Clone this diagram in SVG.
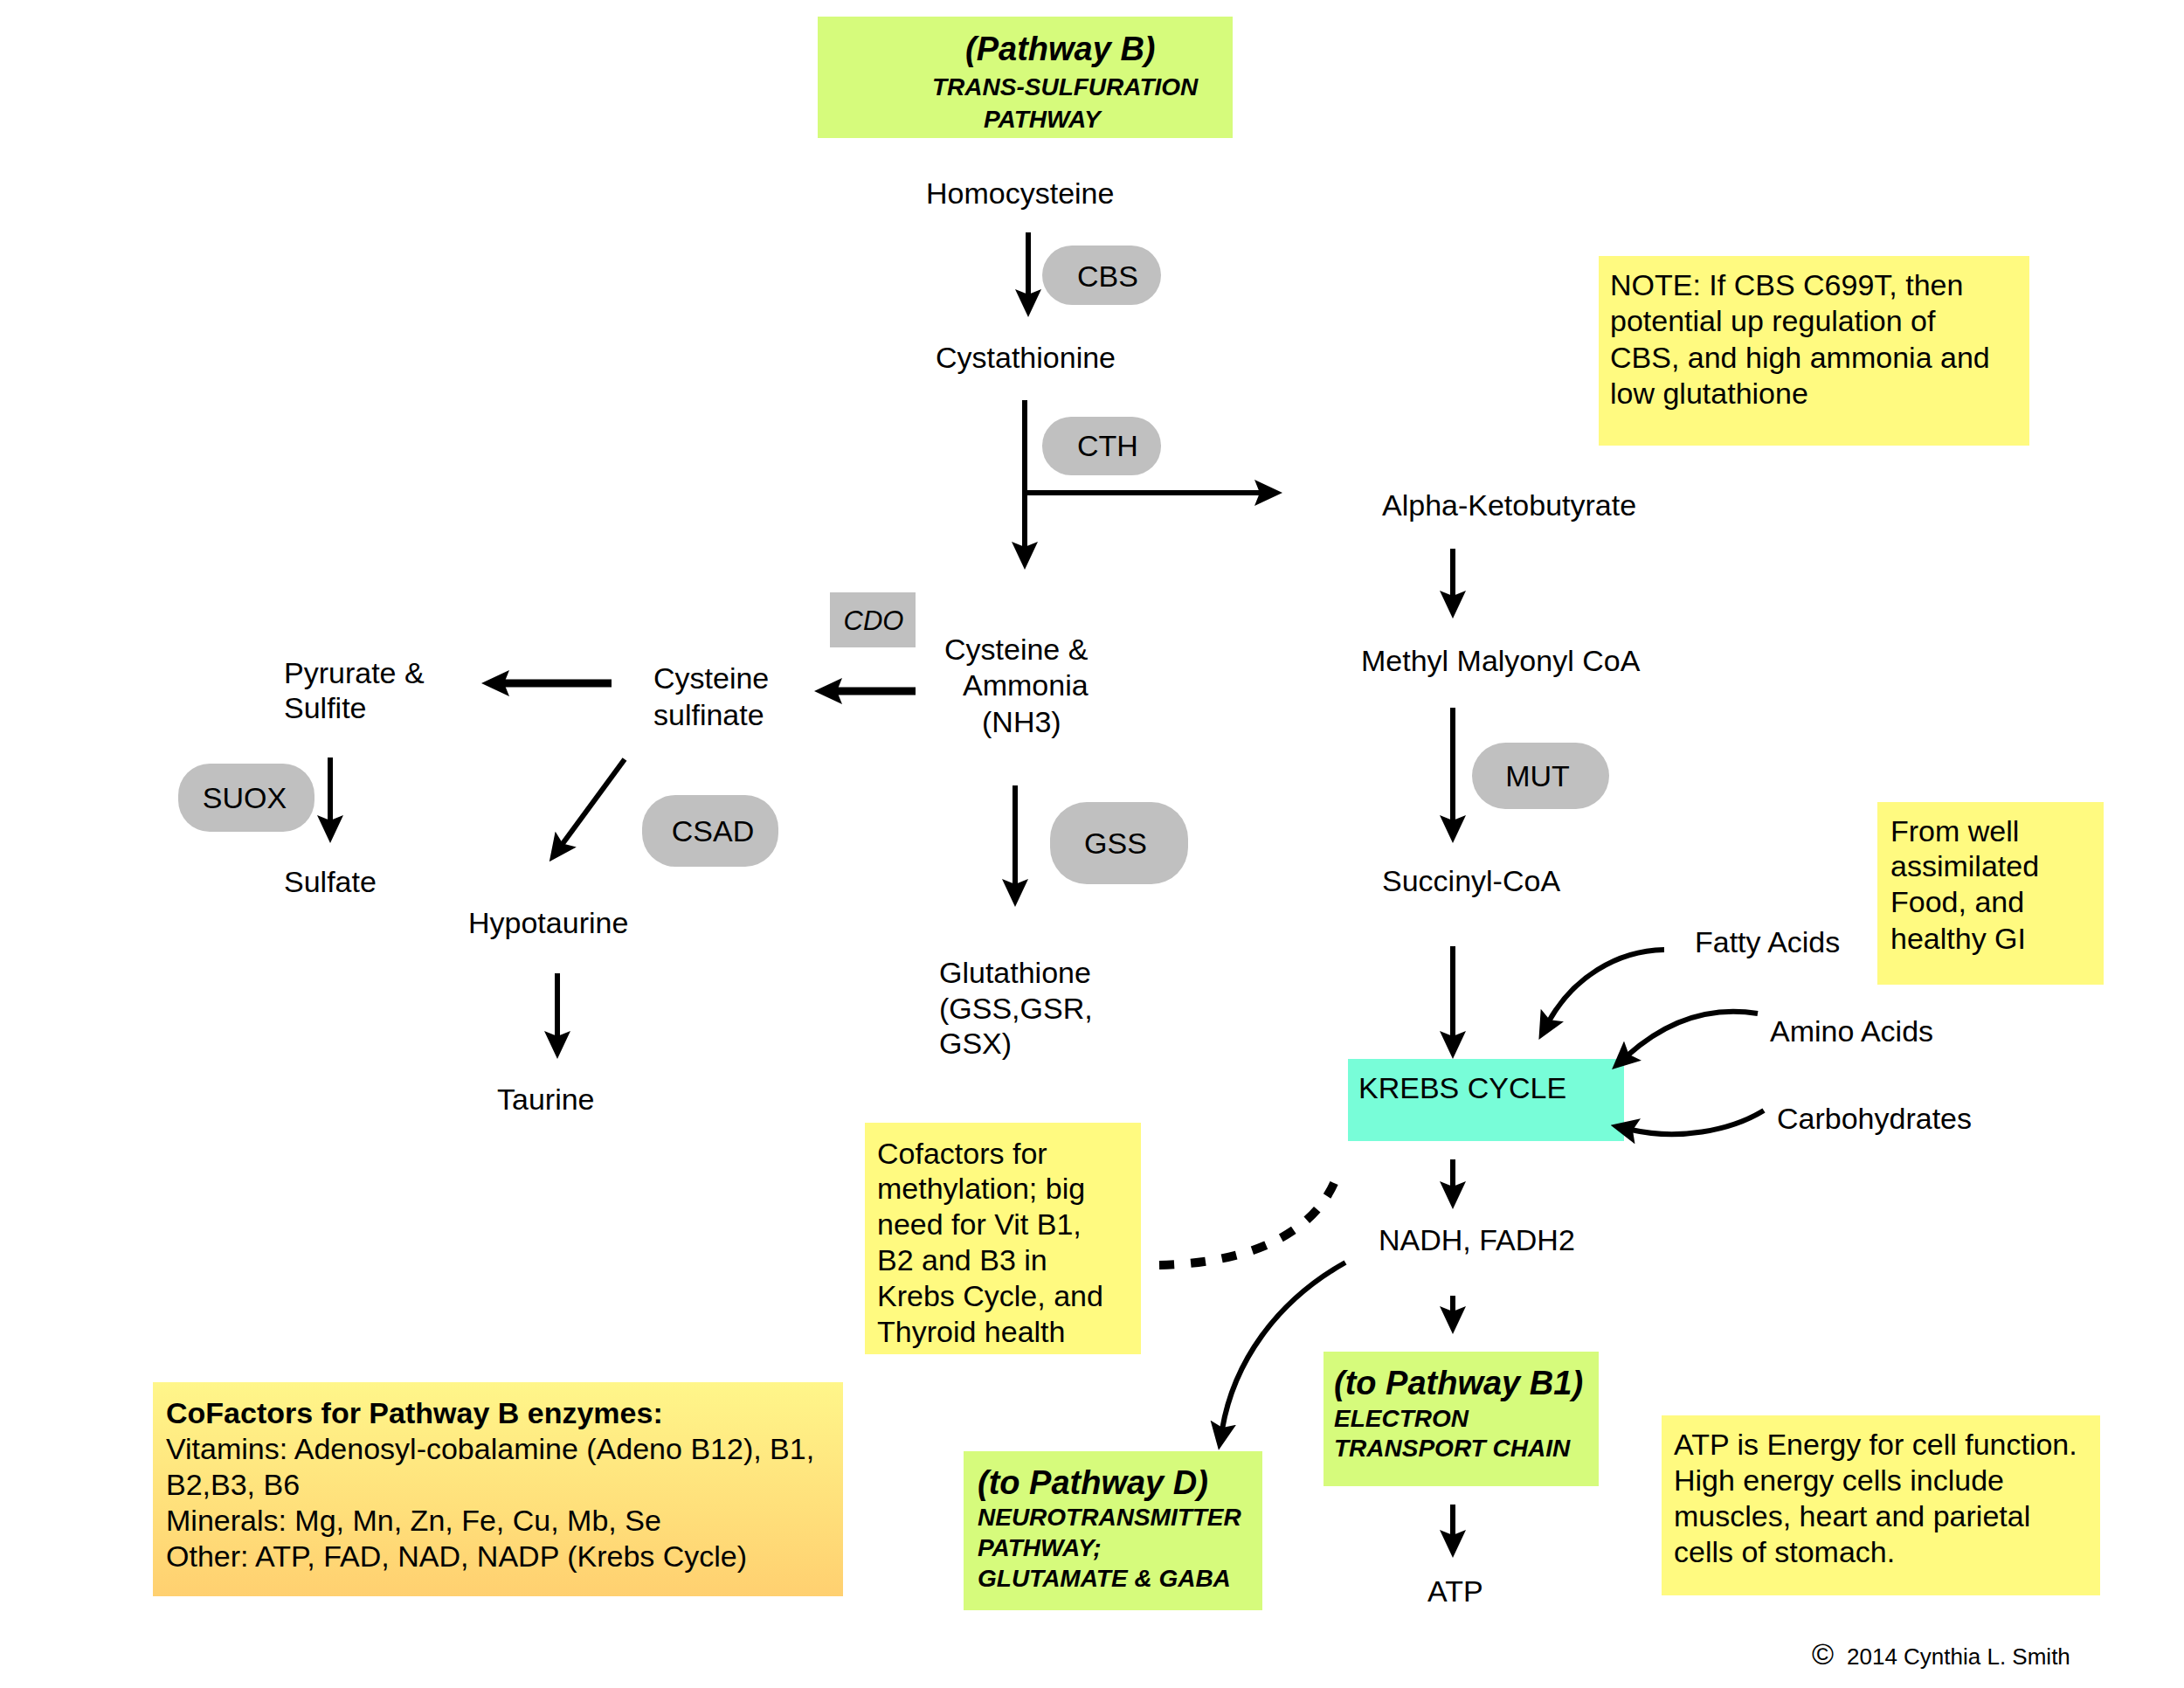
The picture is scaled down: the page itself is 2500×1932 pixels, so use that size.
<svg xmlns="http://www.w3.org/2000/svg" width="2500" height="1932" viewBox="0 0 2500 1932">
<defs>
<style>
text{font-family:"Liberation Sans",Arial,Helvetica,sans-serif;font-size:34px;fill:#000}
.bi{font-weight:bold;font-style:italic}
.h1{font-size:38px}
.h2{font-size:28px}
.it{font-style:italic;font-size:31px}
.b{font-weight:bold}
.mid{text-anchor:middle}
.pill{fill:#C0C0C0}
.note{fill:#FFFA80}
.grn{fill:#D6FB7C}
.ln{fill:none;stroke:#000;stroke-width:6;marker-end:url(#ah)}
.thk{stroke-width:9}
.dash{fill:none;stroke:#000;stroke-width:10;stroke-dasharray:17 19}
</style>
<marker id="ah" markerUnits="userSpaceOnUse" viewBox="0 0 32 30" markerWidth="32" markerHeight="30" refX="8" refY="15" orient="auto">
<path d="M0,0 L32,15 L0,30 L6,15 Z" fill="#000"/>
</marker>
<linearGradient id="og" x1="0" y1="0" x2="0" y2="1">
<stop offset="0" stop-color="#FFF68A"/>
<stop offset="1" stop-color="#FFD070"/>
</linearGradient>
</defs>

<g id="title">
<rect x="936" y="19" width="475" height="139" class="grn"/>
<text x="1105" y="69" class="bi h1">(Pathway B)</text>
<text x="1067" y="109" class="bi h2">TRANS-SULFURATION</text>
<text x="1126" y="146" class="bi h2">PATHWAY</text>
</g>

<g id="homocysteine"><text x="1060" y="233">Homocysteine</text></g>
<g id="cbs"><rect x="1193" y="281" width="136" height="68" rx="34" class="pill"/><text x="1268" y="328" class="mid">CBS</text></g>
<g id="cystathionine"><text x="1071" y="421">Cystathionine</text></g>
<g id="cth"><rect x="1193" y="477" width="136" height="67" rx="33" class="pill"/><text x="1268" y="522" class="mid">CTH</text></g>

<g id="note-cbs">
<rect x="1830" y="293" width="493" height="217" class="note"/>
<text x="1843" y="338">NOTE: If CBS C699T, then</text>
<text x="1843" y="379">potential up regulation of</text>
<text x="1843" y="421">CBS, and high ammonia and</text>
<text x="1843" y="462">low glutathione</text>
</g>

<g id="alpha"><text x="1582" y="590">Alpha-Ketobutyrate</text></g>
<g id="methyl"><text x="1558" y="768">Methyl Malyonyl CoA</text></g>
<g id="mut"><rect x="1685" y="850" width="157" height="76" rx="38" class="pill"/><text x="1760" y="900" class="mid">MUT</text></g>
<g id="succinyl"><text x="1582" y="1020">Succinyl-CoA</text></g>

<g id="note-food">
<rect x="2149" y="918" width="259" height="209" class="note"/>
<text x="2164" y="963">From well</text>
<text x="2164" y="1003">assimilated</text>
<text x="2164" y="1044">Food, and</text>
<text x="2164" y="1086">healthy GI</text>
</g>
<g id="fatty"><text x="1940" y="1090">Fatty Acids</text></g>
<g id="amino"><text x="2026" y="1192">Amino Acids</text></g>
<g id="carbo"><text x="2034" y="1292">Carbohydrates</text></g>

<g id="krebs"><rect x="1543" y="1212" width="316" height="94" fill="#78FDD8"/><text x="1555" y="1257">KREBS CYCLE</text></g>
<g id="nadh"><text x="1578" y="1431">NADH, FADH2</text></g>

<g id="pathway-b1">
<rect x="1515" y="1547" width="315" height="154" class="grn"/>
<text x="1527" y="1596" class="bi h1">(to Pathway B1)</text>
<text x="1527" y="1633" class="bi h2">ELECTRON</text>
<text x="1527" y="1667" class="bi h2">TRANSPORT CHAIN</text>
</g>
<g id="atp"><text x="1634" y="1833">ATP</text></g>

<g id="note-atp">
<rect x="1902" y="1620" width="502" height="206" class="note"/>
<text x="1916" y="1665">ATP is Energy for cell function.</text>
<text x="1916" y="1706">High energy cells include</text>
<text x="1916" y="1747">muscles, heart and parietal</text>
<text x="1916" y="1788">cells of stomach.</text>
</g>

<g id="pathway-d">
<rect x="1103" y="1661" width="342" height="182" class="grn"/>
<text x="1119" y="1710" class="bi h1">(to Pathway D)</text>
<text x="1119" y="1746" class="bi h2">NEUROTRANSMITTER</text>
<text x="1119" y="1781" class="bi h2">PATHWAY;</text>
<text x="1119" y="1816" class="bi h2">GLUTAMATE &amp; GABA</text>
</g>

<g id="note-methylation">
<rect x="990" y="1285" width="316" height="265" class="note"/>
<svg x="990" y="1285" width="316" height="265" viewBox="990 1285 316 265">
<text x="1004" y="1332">Cofactors for</text>
<text x="1004" y="1372">methylation; big</text>
<text x="1004" y="1413">need for Vit B1,</text>
<text x="1004" y="1454">B2 and B3 in</text>
<text x="1004" y="1495">Krebs Cycle, and</text>
<text x="1004" y="1536">Thyroid health</text>
</svg>
</g>

<g id="cofactors">
<rect x="175" y="1582" width="790" height="245" fill="url(#og)"/>
<text x="190" y="1629" class="b">CoFactors for Pathway B enzymes:</text>
<text x="190" y="1670">Vitamins: Adenosyl-cobalamine (Adeno B12), B1,</text>
<text x="190" y="1711">B2,B3, B6</text>
<text x="190" y="1752">Minerals: Mg, Mn, Zn, Fe, Cu, Mb, Se</text>
<text x="190" y="1793">Other: ATP, FAD, NAD, NADP (Krebs Cycle)</text>
</g>

<g id="cdo"><rect x="950" y="678" width="98" height="63" class="pill"/><text x="1000" y="721" class="mid it">CDO</text></g>
<g id="cysteine">
<text x="1081" y="755">Cysteine &amp;</text>
<text x="1102" y="796">Ammonia</text>
<text x="1124" y="838">(NH3)</text>
</g>
<g id="cysteine-sulfinate">
<text x="748" y="788">Cysteine</text>
<text x="748" y="830">sulfinate</text>
</g>
<g id="pyrurate">
<text x="325" y="782">Pyrurate &amp;</text>
<text x="325" y="822">Sulfite</text>
</g>
<g id="suox"><rect x="204" y="874" width="156" height="78" rx="36" class="pill"/><text x="280" y="925" class="mid">SUOX</text></g>
<g id="sulfate"><text x="325" y="1021">Sulfate</text></g>
<g id="csad"><rect x="735" y="910" width="156" height="82" rx="38" class="pill"/><text x="816" y="963" class="mid">CSAD</text></g>
<g id="hypotaurine"><text x="536" y="1068">Hypotaurine</text></g>
<g id="taurine"><text x="569" y="1270">Taurine</text></g>
<g id="gss"><rect x="1202" y="918" width="158" height="94" rx="42" class="pill"/><text x="1277" y="977" class="mid">GSS</text></g>
<g id="glutathione">
<text x="1075" y="1125">Glutathione</text>
<text x="1075" y="1166">(GSS,GSR,</text>
<text x="1075" y="1206">GSX)</text>
</g>

<g id="copyright">
<text x="2074" y="1905" style="font-size:34px">©</text>
<text x="2114" y="1905" style="font-size:26px">2014 Cynthia L. Smith</text>
</g>

<g id="connectors">
<path class="ln" d="M1177,266 V339"/>
<path class="ln" d="M1173,458 V628"/>
<path class="ln" d="M1170,564 H1444"/>
<path class="ln" d="M1663,628 V684"/>
<path class="ln" d="M1663,810 V941"/>
<path class="ln" d="M1663,1083 V1188"/>
<path class="ln" d="M1663,1327 V1360"/>
<path class="ln" d="M1663,1483 V1503"/>
<path class="ln" d="M1663,1722 V1759"/>
<path class="ln thk" d="M1048,791 H956"/>
<path class="ln thk" d="M700,782 H575"/>
<path class="ln" d="M378,867 V941"/>
<path class="ln" d="M715,869 L643,967"/>
<path class="ln" d="M638,1114 V1188"/>
<path class="ln" d="M1162,899 V1014"/>
<path class="ln" d="M1905,1087 C1850,1088 1800,1120 1773,1169"/>
<path class="ln" d="M2012,1160 C1950,1150 1900,1175 1863,1208"/>
<path class="ln" d="M2019,1271 C1980,1295 1920,1305 1867,1293"/>
<path class="ln" d="M1540,1445 C1460,1490 1412,1560 1399,1636"/>
<path class="dash" d="M1327,1448 C1450,1445 1515,1400 1533,1338"/>
</g>
</svg>
